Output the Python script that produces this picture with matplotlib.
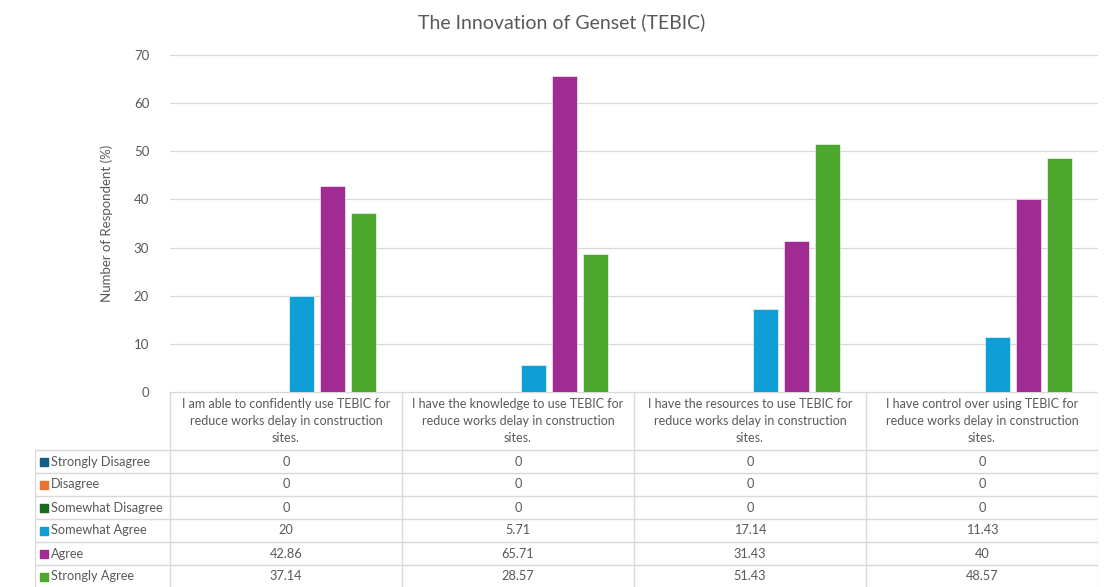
import matplotlib.pyplot as plt
import numpy as np

plt.rcParams['font.family'] = ['Lato', 'DejaVu Sans']

# Survey results (% of respondents) per statement
categories = [
    "I am able to confidently use TEBIC for\nreduce works delay in construction\nsites.",
    "I have the knowledge to use TEBIC for\nreduce works delay in construction\nsites.",
    "I have the resources to use TEBIC for\nreduce works delay in construction\nsites.",
    "I have control over using TEBIC for\nreduce works delay in construction\nsites.",
]
series = ["Strongly Disagree", "Disagree", "Somewhat Disagree",
          "Somewhat Agree", "Agree", "Strongly Agree"]
strongly_disagree = [0, 0, 0, 0]
disagree = [0, 0, 0, 0]
somewhat_disagree = [0, 0, 0, 0]
somewhat_agree = [20, 5.71, 17.14, 11.43]
agree = [42.86, 65.71, 31.43, 40]
strongly_agree = [37.14, 28.57, 51.43, 48.57]
values = [strongly_disagree, disagree, somewhat_disagree,
          somewhat_agree, agree, strongly_agree]
colors = ["#156082", "#E97132", "#196B24", "#0F9ED5", "#A02B93", "#4EA72E"]

W, H = 1110, 587
fig = plt.figure(figsize=(W / 100, H / 100), dpi=100)

# pixel layout
px_left, px_right = 170, 1098
px_top, px_base = 55, 392
px_tab_left = 35
row_h = 23
head_bottom = 450
txt = '#595959'

ax = fig.add_axes([px_left / W, 1 - px_base / H,
                   (px_right - px_left) / W, (px_base - px_top) / H])
x = np.arange(len(categories))
step = 0.1335
width = 0.107
for i, (name, vals, c) in enumerate(zip(series, values, colors)):
    ax.bar(x + (i - 2.5) * step, vals, width, color=c, label=name,
           edgecolor='white', linewidth=0.4, zorder=3)

ax.set_xlim(-0.5, 3.5)
ax.set_ylim(0, 70)
ax.set_yticks(range(0, 71, 10))
ax.yaxis.grid(True, color='#d9d9d9', linewidth=0.9, zorder=0)
ax.set_xticks([])
for s in ax.spines.values():
    s.set_visible(False)
ax.tick_params(axis='y', length=0, pad=15, labelsize=9.5, labelcolor=txt)
ax.set_ylabel("Number of Respondent (%)", fontsize=9.5, color=txt, labelpad=15)
fig.text(0.5 * (418 + 705) / W, 1 - 22 / H, "The Innovation of Genset (TEBIC)",
         ha='center', va='center', fontsize=14, color=txt)

# data table under the plot, on the same horizontal scale
scale = (px_right - px_left) / 4.0
tab = fig.add_axes([px_tab_left / W, 0, (px_right - px_tab_left) / W, (H - px_base) / H])
x0 = -0.5 - (px_left - px_tab_left) / scale
tab.set_xlim(x0, 3.5)
tab.set_ylim(H - px_base, 0)
tab.axis('off')
line_kw = dict(color='#d9d9d9', linewidth=1.0)
yh = head_bottom - px_base
# header
tab.plot([-0.5, 3.5], [0, 0], **line_kw)
for b in np.arange(-0.5, 3.6, 1.0):
    tab.plot([b, b], [0, H - px_base], **line_kw)
tab.plot([x0, x0], [yh, H - px_base], **line_kw)
for r in range(len(series) + 1):
    y = yh + r * row_h
    tab.plot([x0, 3.5], [y, y], **line_kw)
for j, cat in enumerate(categories):
    tab.text(j, yh / 2, cat, ha='center', va='center', fontsize=9,
             color=txt, linespacing=1.45)
for r, (name, vals, c) in enumerate(zip(series, values, colors)):
    yc = yh + (r + 0.5) * row_h
    tab.scatter([x0 + 0.04], [yc], marker='s', s=26, color=c, clip_on=False)
    tab.text(x0 + 0.068, yc, name, ha='left', va='center', fontsize=9.2,
             color=txt)
    for j, v in enumerate(vals):
        tab.text(j, yc, f"{v:g}", ha='center', va='center', fontsize=9.2,
                 color=txt)

fig.savefig("out.png", dpi=100)
